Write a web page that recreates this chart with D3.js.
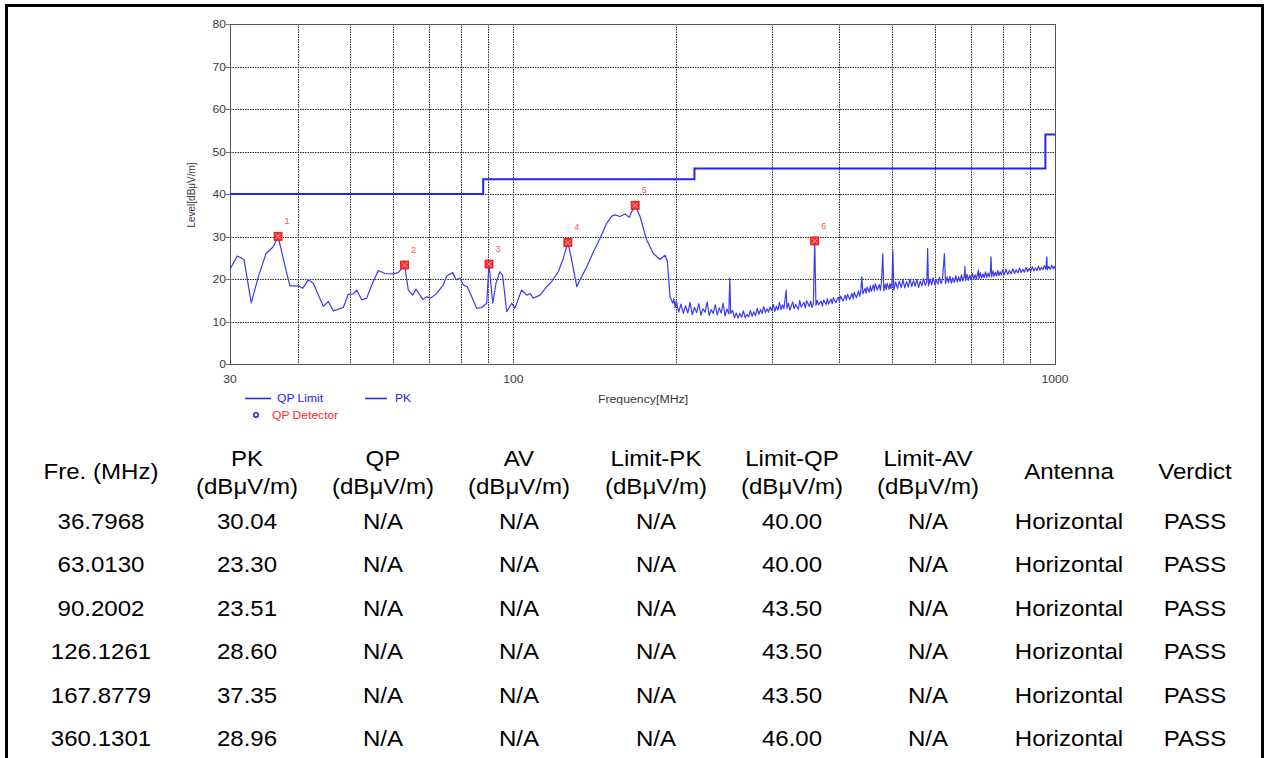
<!DOCTYPE html>
<html>
<head>
<meta charset="utf-8">
<script src="https://cdn.jsdelivr.net/npm/d3@7"></script>
<style>
html, body { margin: 0; padding: 0; background: #fff; }
svg { display: block; font-family: "Liberation Sans", Arial, sans-serif; }
</style>
</head>
<body>
<svg id="chart" width="1265" height="758"></svg>
<script>
// ---- data ----
// QP limit: level holds from each frequency up to the next one
const limitFreq = [30, 88, 216, 960, 1000];
const limitLevel = [40, 43.5, 46, 54, 54];

// peak scan [MHz, dBuV/m]
const pkTrace = [
  [30.0,22.3],[30.94,25.4],[31.84,24.6],[32.84,14.4],[33.83,20.5],[34.96,26.0],[36.06,27.6],[36.80,30.04],
  [38.06,22.1],[38.71,18.4],[40.10,18.4],[40.86,17.8],[41.84,19.8],[42.74,19.0],[44.60,13.6],[45.56,14.7],
  [46.54,12.5],[48.56,13.3],[49.60,16.4],[50.66,16.5],[51.40,17.4],[52.51,15.1],[53.64,15.5],[54.79,18.6],
  [56.35,22.0],[57.97,21.3],[60.06,21.2],[61.34,21.5],[63.01,23.30],[64.01,17.4],[65.22,16.2],[66.15,17.6],
  [68.05,15.2],[69.22,15.8],[70.41,15.5],[72.23,16.6],[74.28,18.6],[75.36,20.7],[77.31,21.5],[78.41,19.8],
  [79.75,20.2],[80.88,18.6],[82.27,18.2],[85.61,13.1],[87.46,13.3],[89.33,14.3],[90.20,23.51],[91.65,14.3],
  [92.92,19.0],[94.44,21.7],[95.56,20.9],[97.26,12.3],[99.34,14.3],[100.7,13.1],[103.6,17.4],[105.9,16.2],
  [107.4,16.6],[108.9,15.5],[112.0,16.2],[115.3,18.2],[117.7,19.4],[121.1,21.7],[123.7,24.9],[126.13,28.60],
  [128.2,24.5],[131.0,18.2],[132.8,19.8],[136.7,22.9],[140.6,26.4],[144.6,29.6],[148.8,33.1],[152.0,34.8],
  [154.1,35.1],[157.4,34.7],[160.8,35.3],[163.8,34.5],[165.4,35.8],[167.88,37.35],[171.4,34.7],[176.3,29.2],
  [181.4,26.0],[186.6,24.6],[190.6,25.6],[192.5,24.1],[194.7,15.8],[197.0,14.3],
  [198,15.4],[199,13.2],[200,14.8],[202,12.2],[204,14.1],[206,11.9],[208,13.7],[210,12.0],[212,14.5],[214,11.6],[216,13.3],
  [218,12.1],[220,14.2],[222,11.5],[224,13.0],[226,12.2],[228,14.6],[230,11.4],[232,12.8],[234,11.9],[236,13.9],
  [238,11.5],[240,13.2],[242,12.0],[244,14.3],[246,11.3],[248,12.9],[250,11.8],[251,20.2],[252,11.9],[254,12.6],
  [256,10.9],[258,12.0],[260,10.8],[262,11.9],[264,11.0],[266,12.5],[268,10.9],[270,11.7],[272,11.1],[274,12.6],
  [276,11.2],[278,12.3],[280,11.4],[282,13.1],[284,11.7],[286,12.8],[288,11.9],[290,13.5],[292,12.1],[294,13.0],
  [296,12.2],[298,13.4],
  [300,12.6],[302,14.0],[304,12.4],[306,13.6],[308,12.7],[310,14.5],[312,12.8],[314,13.9],[316,13.0],[319,17.4],[320,13.1],
  [322,14.3],[324,12.7],[328,14.6],[330,13.0],[332,14.0],[336,12.9],[338,15.0],[340,13.4],[344,14.5],[346,13.2],[348,14.9],
  [352,13.5],[354,14.8],[356,13.3],[358,14.2],[360.13,28.96],[362,13.8],[364,15.0],[366,13.9],[370,14.8],[372,13.6],[374,15.1],
  [378,14.0],[380,15.4],[382,14.1],[386,15.3],[388,14.2],[390,15.6],[394,14.4],[398,15.7],[400,14.7],[402,16.0],[406,14.8],
  [410,16.2],[412,15.0],[414,16.4],[418,15.2],[422,16.6],[424,15.3],[426,16.9],[430,15.6],[434,17.2],[436,15.9],[438,17.0],
  [440,20.5],[442,16.5],[446,17.8],[448,16.6],[450,18.1],[454,16.9],[456,18.4],[458,17.1],[462,18.6],[464,17.2],[466,18.9],
  [470,17.4],[474,18.7],[476,17.3],[478,18.9],[481,26.0],[483,17.2],[486,18.8],[488,17.5],[490,19.0],[494,17.6],[496,18.9],
  [498,17.7],[500,19.2],[502,26.6],[504,17.4],
  [508,19.3],[512,17.8],[516,19.5],[520,18.0],[524,19.8],[528,17.9],[532,19.4],[536,18.1],[540,20.0],[544,18.2],[548,19.6],
  [552,18.3],[556,19.9],[560,18.0],[564,19.5],[568,18.4],[572,20.1],[576,18.5],[580,19.4],[582,27.2],[584,18.4],[588,20.0],
  [592,18.6],[596,20.3],[600,18.7],[604,19.8],[608,18.8],[612,20.4],[616,18.9],[620,20.1],[625,26.0],[628,18.9],[632,20.5],
  [636,19.1],[640,20.6],[644,19.0],[648,20.3],[652,19.2],[656,20.8],[660,19.3],[664,20.5],[668,19.4],[672,21.0],[676,19.5],
  [680,20.6],[682,22.9],[684,19.6],[688,21.1],[692,19.7],[696,20.9],[700,19.8],[704,21.3],[708,19.9],[712,21.0],[716,20.0],
  [720,21.4],[722,22.1],[724,20.1],[728,21.5],[732,20.2],[736,21.2],[740,20.3],[744,21.7],[748,20.4],[752,21.4],[756,20.5],
  [760,21.8],[762,25.2],[764,20.5],[768,21.9],[772,20.6],[776,21.6],[780,20.7],[784,22.0],[788,20.8],[792,21.7],[796,20.9],
  [800,22.1],[806,21.0],[812,22.3],[818,21.1],[824,22.0],[830,21.2],[836,22.4],[842,21.3],[848,22.2],[854,21.4],[860,22.6],
  [866,21.5],[872,22.3],[878,21.6],[884,22.7],[890,21.7],[896,22.5],[902,21.8],[908,22.9],[914,21.9],[920,22.6],[926,22.0],
  [932,23.0],[938,22.1],[944,22.7],[950,22.2],[956,23.1],[962,22.3],[966,25.2],[968,22.2],[974,23.0],[980,22.3],[986,23.2],
  [992,22.4],[996,23.0],[1000,22.5]
];

// marked peaks
const markFreq = [36.7968, 63.0130, 90.2002, 126.1261, 167.8779, 360.1301];
const markPK = [30.04, 23.30, 23.51, 28.60, 37.35, 28.96];
const markLimitQP = [40.00, 40.00, 43.50, 43.50, 43.50, 46.00];
const markAntenna = ["Horizontal", "Horizontal", "Horizontal", "Horizontal", "Horizontal", "Horizontal"];
const markVerdict = ["PASS", "PASS", "PASS", "PASS", "PASS", "PASS"];

const yTicks = [0, 10, 20, 30, 40, 50, 60, 70, 80];
const xTickLabels = [30, 100, 1000];
const xGrid = [40, 50, 60, 70, 80, 90, 100, 200, 300, 400, 500, 600, 700, 800, 900];

const tableHeads = [["Fre. (MHz)"], ["PK", "(dBμV/m)"], ["QP", "(dBμV/m)"], ["AV", "(dBμV/m)"],
  ["Limit-PK", "(dBμV/m)"], ["Limit-QP", "(dBμV/m)"], ["Limit-AV", "(dBμV/m)"], ["Antenna"], ["Verdict"]];

// ---- layout ----
const svg = d3.select("#chart");
const plot = { left: 230, right: 1055, top: 24, bottom: 364 };
const x = d3.scaleLog().domain([30, 1000]).range([plot.left, plot.right]);
const y = d3.scaleLinear().domain([0, 80]).range([plot.bottom, plot.top]);

const BLUE = "#2323f5";
const RED = "#ff2b2b";

// outer frame
svg.append("path")
  .attr("d", "M6.5,770 V5.5 H1262.5 V770")
  .attr("fill", "none").attr("stroke", "#000").attr("stroke-width", 3);

// grid
const grid = svg.append("g").attr("stroke", "#111").attr("stroke-width", 1)
  .attr("stroke-dasharray", "1.5,1").attr("opacity", 0.9);
grid.selectAll("line.v").data(xGrid).join("line").attr("class", "v")
  .attr("x1", d => Math.round(x(d)) + 0.5).attr("x2", d => Math.round(x(d)) + 0.5)
  .attr("y1", plot.top).attr("y2", plot.bottom);
grid.selectAll("line.h").data(yTicks.filter(d => d > 0 && d < 80)).join("line").attr("class", "h")
  .attr("y1", d => Math.round(y(d)) + 0.5).attr("y2", d => Math.round(y(d)) + 0.5)
  .attr("x1", plot.left).attr("x2", plot.right);

// frame of the plot
svg.append("rect")
  .attr("x", plot.left + 0.5).attr("y", plot.top + 0.5)
  .attr("width", plot.right - plot.left).attr("height", plot.bottom - plot.top)
  .attr("fill", "none").attr("stroke", "#555").attr("stroke-width", 1);

// y axis ticks + labels
const yAx = svg.append("g");
yAx.selectAll("line").data(yTicks).join("line")
  .attr("x1", plot.left - 4).attr("x2", plot.left)
  .attr("y1", d => Math.round(y(d)) + 0.5).attr("y2", d => Math.round(y(d)) + 0.5)
  .attr("stroke", "#777");
yAx.selectAll("text").data(yTicks).join("text")
  .attr("transform", d => `translate(${plot.left - 4},${y(d) + 4}) scale(1.1,1)`)
  .attr("text-anchor", "end").attr("font-size", 11).attr("fill", "#3a3a3a")
  .text(d => d);

svg.append("text")
  .attr("transform", `translate(195,195) rotate(-90)`)
  .attr("text-anchor", "middle").attr("font-size", 10).attr("fill", "#3a3a3a")
  .text("Level[dBμV/m]");

// x labels
svg.append("g").selectAll("text").data(xTickLabels).join("text")
  .attr("transform", d => `translate(${x(d)},${plot.bottom + 19}) scale(1.1,1)`)
  .attr("text-anchor", "middle").attr("font-size", 11).attr("fill", "#3a3a3a")
  .text(d => d);
svg.append("text")
  .attr("transform", `translate(643,${plot.bottom + 39}) scale(1.12,1)`)
  .attr("text-anchor", "middle").attr("font-size", 11).attr("fill", "#3a3a3a")
  .text("Frequency[MHz]");

// limit line
const limitLine = d3.line().x(d => x(d[0])).y(d => y(d[1])).curve(d3.curveStepAfter);
svg.append("path")
  .datum(limitFreq.map((f, i) => [f, limitLevel[i]]))
  .attr("d", limitLine)
  .attr("fill", "none").attr("stroke", BLUE).attr("stroke-width", 2);

// PK trace
const traceLine = d3.line().x(d => x(d[0])).y(d => y(d[1]));
svg.append("path")
  .datum(pkTrace)
  .attr("d", traceLine)
  .attr("fill", "none").attr("stroke", "#3b3bf0").attr("stroke-width", 1.2)
  .attr("stroke-linejoin", "round");

// markers
const marks = svg.append("g").selectAll("g").data(markFreq).join("g")
  .attr("transform", (d, i) => `translate(${x(d)},${y(markPK[i])})`);
marks.append("rect").attr("x", -4).attr("y", -4).attr("width", 8).attr("height", 8)
  .attr("fill", RED).attr("stroke", "#e01010").attr("stroke-width", 0.8);
marks.append("path").attr("d", "M-2.5,-2.5L2.5,2.5M-2.5,2.5L2.5,-2.5")
  .attr("stroke", "#ffb0b0").attr("stroke-width", 1);
marks.append("text").attr("x", 9).attr("y", -12)
  .attr("font-size", 9).attr("fill", "#ff5050").attr("text-anchor", "middle")
  .text((d, i) => i + 1);

// legend
const lg = svg.append("g").attr("font-size", 11);
lg.append("line").attr("x1", 245).attr("x2", 271).attr("y1", 398.5).attr("y2", 398.5)
  .attr("stroke", BLUE).attr("stroke-width", 1.5);
lg.append("text").attr("transform", "translate(277,402) scale(1.1,1)").attr("fill", BLUE).text("QP Limit");
lg.append("line").attr("x1", 365).attr("x2", 387).attr("y1", 398.5).attr("y2", 398.5)
  .attr("stroke", BLUE).attr("stroke-width", 1.5);
lg.append("text").attr("transform", "translate(395,402) scale(1.1,1)").attr("fill", BLUE).text("PK");
lg.append("circle").attr("cx", 256).attr("cy", 415).attr("r", 2.2)
  .attr("fill", "none").attr("stroke", BLUE).attr("stroke-width", 1.6);
lg.append("text").attr("transform", "translate(272,419) scale(1.1,1)").attr("fill", RED).text("QP Detector");

// ---- table ----
const colX = [101, 247, 383, 519, 656, 792, 928, 1069, 1195];
const FS = 21.5, SX = 1.12;
const tbl = svg.append("g").attr("font-size", FS).attr("fill", "#000").attr("text-anchor", "middle");

tableHeads.forEach((lines, c) => {
  const baseY = lines.length === 1 ? [478.5] : [465.5, 493.5];
  lines.forEach((t, k) => {
    tbl.append("text").attr("transform", `translate(${colX[c]},${baseY[k]}) scale(${SX},1)`).text(t);
  });
});

const rowY = d3.scaleLinear().domain([0, 5]).range([528.5, 746]);
const rows = markFreq.map((f, i) => [
  f.toFixed(4), markPK[i].toFixed(2), "N/A", "N/A", "N/A",
  markLimitQP[i].toFixed(2), "N/A", markAntenna[i], markVerdict[i]
]);
rows.forEach((r, i) => {
  r.forEach((t, c) => {
    tbl.append("text").attr("transform", `translate(${colX[c]},${rowY(i)}) scale(${SX},1)`).text(t);
  });
});
</script>
</body>
</html>
